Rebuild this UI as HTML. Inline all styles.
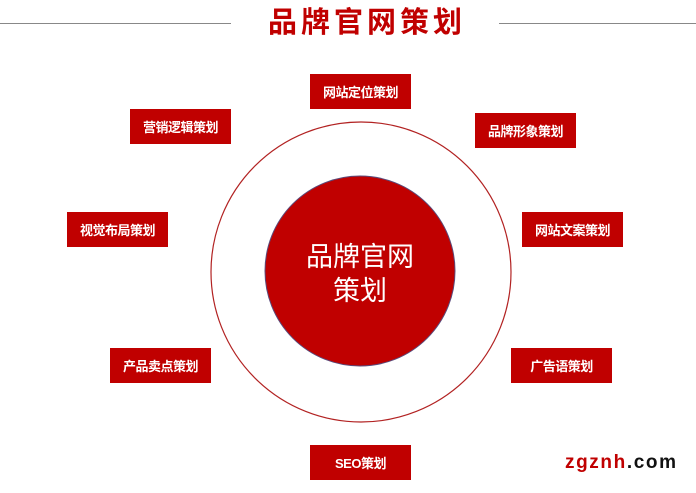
<!DOCTYPE html>
<html><head><meta charset="utf-8"><style>
body{margin:0;width:696px;height:493px;background:#fff;position:relative;overflow:hidden;font-family:"Liberation Sans","Noto Sans CJK SC",sans-serif}
.b{position:absolute;width:101px;height:35px;background:#c00000;color:#fff;font-size:13px;font-weight:bold;display:flex;align-items:center;justify-content:center;letter-spacing:-0.5px}
.line{position:absolute;top:23px;height:1px;background:#888}
</style></head><body>
<div class="line" style="left:0;width:231px"></div>
<div class="line" style="left:499px;width:197px"></div>
<div style="position:absolute;left:230px;width:270px;top:-1px;text-align:center;color:#c00000;font-size:29px;font-weight:bold;letter-spacing:4px;padding-left:4px;box-sizing:border-box">品牌官网策划</div>
<svg style="position:absolute;left:0;top:0" width="696" height="493">
<circle cx="361" cy="272" r="150" fill="none" stroke="#b22222" stroke-width="1.2"/>
<circle cx="360" cy="271" r="95" fill="#c00000" stroke="#5a4a7a" stroke-width="1"/>
</svg>
<div style="position:absolute;left:265px;width:190px;top:240px;text-align:center;color:#fff;font-size:27px;line-height:34px">品牌官网<br>策划</div>
<div class="b" style="left:310px;top:74px">网站定位策划</div>
<div class="b" style="left:130px;top:109px">营销逻辑策划</div>
<div class="b" style="left:475px;top:113px">品牌形象策划</div>
<div class="b" style="left:67px;top:212px">视觉布局策划</div>
<div class="b" style="left:522px;top:212px">网站文案策划</div>
<div class="b" style="left:110px;top:348px">产品卖点策划</div>
<div class="b" style="left:511px;top:348px">广告语策划</div>
<div class="b" style="left:310px;top:445px">SEO策划</div>
<div style="position:absolute;left:565px;top:452px;font-family:'Liberation Sans',sans-serif;font-weight:bold;font-size:19px;letter-spacing:1.6px"><span style="color:#c00000">zgznh</span><span style="color:#111">.com</span></div>
</body></html>
